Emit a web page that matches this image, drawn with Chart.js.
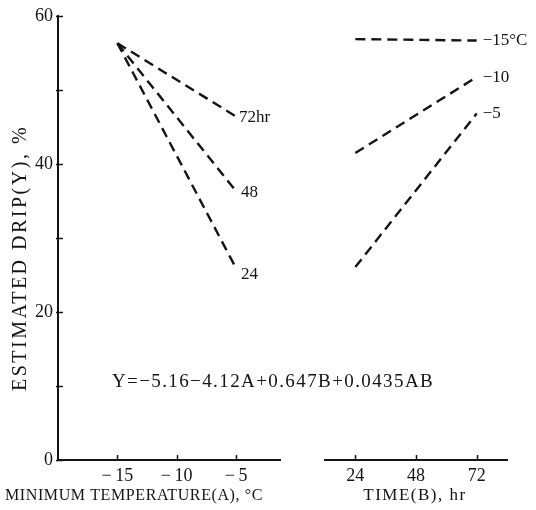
<!DOCTYPE html>
<html>
<head>
<meta charset="utf-8">
<script src="https://cdn.jsdelivr.net/npm/chart.js@4.4.1/dist/chart.umd.min.js"></script>
<style>
  html, body { margin: 0; padding: 0; background: #fff; }
  #wrap { position: relative; width: 536px; height: 510px; }
  #wrap canvas { position: absolute; left: 0; top: 0; }
</style>
</head>
<body>
<div id="wrap">
  <canvas id="tempChart" width="536" height="510"></canvas>
  <canvas id="timeChart" width="536" height="510"></canvas>
</div>
<script>
  // Left panel: drip vs minimum temperature, one line per holding time.
  var tempX = [-15, -5];
  var tempTicks = [-15, -10, -5];
  var hourLabels = ['72hr', '48', '24'];
  var drip72hr = [56.3, 46.4];
  var drip48hr = [56.3, 36.3];
  var drip24hr = [56.3, 25.9];

  // Right panel: drip vs time, one line per minimum temperature.
  var timeX = [24, 72];
  var timeTicks = [24, 48, 72];
  var tempLabels = ['\u221215\u00b0C', '\u221210', '\u22125'];
  var dripMinus15 = [56.5, 56.3];
  var dripMinus10 = [41.2, 51.4];
  var dripMinus5 = [25.9, 46.5];

  var yTicks = [0, 20, 40, 60];
  var yMinorTicks = [10, 30, 50];

  var EQUATION = 'Y=\u22125.16\u22124.12A+0.647B+0.0435AB';
  var Y_TITLE = 'ESTIMATED DRIP(Y), %';
  var X_TITLE_TEMP = 'MINIMUM TEMPERATURE(A), \u00b0C';
  var X_TITLE_TIME = 'TIME(B), hr';

  var INK = '#141414';
  var SERIF = '"Liberation Serif", "DejaVu Serif", serif';

  function toPoints(xs, ys) {
    return xs.map(function (x, i) { return { x: x, y: ys[i] }; });
  }

  function dashed(label, xs, ys) {
    return {
      label: label,
      data: toPoints(xs, ys),
      borderColor: INK,
      borderWidth: 2.4,
      borderDash: [10, 6],
      pointRadius: 0,
      fill: false,
      tension: 0
    };
  }

  function minusLabel(v) {
    return v < 0 ? '\u2212\u2009' + Math.abs(v) : String(v);
  }

  /**
   * Short tick marks pointing into the plot, like the printed figure.
   */
  var innerTicks = {
    id: 'innerTicks',
    afterDraw: function (chart, args, opts) {
      var ctx = chart.ctx;
      ctx.save();
      ctx.strokeStyle = INK;
      ctx.lineWidth = 1.5;
      var xs = chart.scales.x;
      xs.ticks.forEach(function (t) {
        var px = Math.round(xs.getPixelForValue(t.value)) + 0.5;
        ctx.beginPath();
        ctx.moveTo(px, xs.top);
        ctx.lineTo(px, xs.top - 5);
        ctx.stroke();
      });
      if (opts.yAxis) {
        var ys = chart.scales.y;
        yTicks.concat(yMinorTicks).forEach(function (v) {
          var py = Math.round(ys.getPixelForValue(v)) + 0.5;
          ctx.beginPath();
          ctx.moveTo(ys.right - 2, py);
          ctx.lineTo(ys.right + 5, py);
          ctx.stroke();
        });
      }
      ctx.restore();
    }
  };

  /**
   * Series names written at the end of each line.
   */
  var endLabels = {
    id: 'endLabels',
    afterDatasetsDraw: function (chart, args, opts) {
      var ctx = chart.ctx;
      ctx.save();
      ctx.fillStyle = INK;
      ctx.font = '17px ' + SERIF;
      ctx.textAlign = 'left';
      ctx.textBaseline = 'middle';
      chart.data.datasets.forEach(function (ds, i) {
        var meta = chart.getDatasetMeta(i);
        var last = meta.data[meta.data.length - 1];
        var off = opts.offsets[i] || opts.offsets[0];
        ctx.fillText(ds.label, last.x + off[0], last.y + off[1]);
      });
      ctx.restore();
    }
  };

  /**
   * Axis titles and the regression equation.
   */
  var freeText = {
    id: 'freeText',
    afterDraw: function (chart, args, opts) {
      var ctx = chart.ctx;
      ctx.save();
      ctx.fillStyle = INK;
      ctx.textAlign = 'center';
      ctx.textBaseline = 'middle';
      opts.items.forEach(function (it) {
        ctx.save();
        ctx.font = it.size + 'px ' + SERIF;
        ctx.letterSpacing = (it.spacing || 0) + 'px';
        ctx.translate(it.x, it.y);
        if (it.rotate) {
          ctx.rotate(it.rotate);
        }
        ctx.fillText(it.text, 0, 0);
        ctx.restore();
      });
      ctx.restore();
    }
  };

  function baseScales(xMin, xMax, xTicks, showY) {
    return {
      x: {
        type: 'linear',
        min: xMin,
        max: xMax,
        afterBuildTicks: function (scale) {
          scale.ticks = xTicks.map(function (v) { return { value: v }; });
        },
        afterFit: function (scale) { scale.height = 50; },
        grid: { display: true, drawOnChartArea: false, drawTicks: false },
        border: { display: true, width: 2, color: INK },
        ticks: {
          color: INK,
          padding: 5,
          maxRotation: 0,
          font: { family: SERIF, size: 18 },
          callback: minusLabel
        }
      },
      y: {
        type: 'linear',
        display: showY,
        min: 0,
        max: 60,
        afterBuildTicks: function (scale) {
          scale.ticks = yTicks.map(function (v) { return { value: v }; });
        },
        afterFit: function (scale) { scale.width = showY ? 58 : 0; },
        grid: { display: true, drawOnChartArea: false, drawTicks: false },
        border: { display: true, width: 2, color: INK },
        ticks: {
          color: INK,
          padding: 5,
          font: { family: SERIF, size: 18 }
        }
      }
    };
  }

  var common = {
    responsive: false,
    animation: false,
    events: []
  };

  new Chart(document.getElementById('tempChart'), {
    type: 'line',
    data: {
      datasets: [
        dashed(hourLabels[0], tempX, drip72hr),
        dashed(hourLabels[1], tempX, drip48hr),
        dashed(hourLabels[2], tempX, drip24hr)
      ]
    },
    options: Object.assign({}, common, {
      layout: { padding: { top: 13, left: 0, right: 256, bottom: 0 } },
      scales: baseScales(-20, -1.3, tempTicks, true),
      plugins: {
        legend: { display: false },
        tooltip: { enabled: false },
        innerTicks: { yAxis: true },
        endLabels: { offsets: [[3, 1], [5, 1], [5, 6]] },
        freeText: {
          items: [
            { text: Y_TITLE, x: 21, y: 258, size: 20, spacing: 2.5, rotate: -Math.PI / 2 },
            { text: X_TITLE_TEMP, x: 134, y: 496, size: 16, spacing: 0.6 },
            { text: X_TITLE_TIME, x: 415, y: 496, size: 17, spacing: 1.5 },
            { text: EQUATION, x: 273, y: 382, size: 19, spacing: 1.4 }
          ]
        }
      }
    }),
    plugins: [innerTicks, endLabels, freeText]
  });

  new Chart(document.getElementById('timeChart'), {
    type: 'line',
    data: {
      datasets: [
        dashed(tempLabels[0], timeX, dripMinus15),
        dashed(tempLabels[1], timeX, dripMinus10),
        dashed(tempLabels[2], timeX, dripMinus5)
      ]
    },
    options: Object.assign({}, common, {
      layout: { padding: { top: 13, left: 325, right: 29, bottom: 0 } },
      scales: baseScales(12, 84, timeTicks, false),
      plugins: {
        legend: { display: false },
        tooltip: { enabled: false },
        innerTicks: { yAxis: false },
        endLabels: { offsets: [[6, 0]] }
      }
    }),
    plugins: [innerTicks, endLabels]
  });
</script>
</body>
</html>
